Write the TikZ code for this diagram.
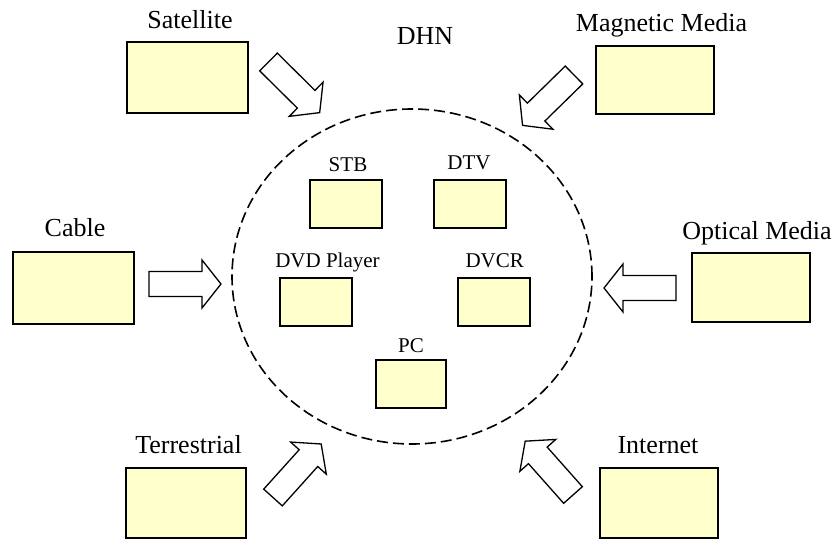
\documentclass[tikz,border=0pt]{standalone}
\usepackage{fontspec}
\setmainfont{Liberation Serif}
\usetikzlibrary{shapes.geometric}
\definecolor{boxfill}{HTML}{FFFFCC}
\newcommand\blkarrow[3]{%
  \draw[blockarrow, shift={(#1,#2)}, rotate=#3]
    (0,-12.5) -- (53,-12.5) -- (53,-24) -- (72,0) -- (53,24) -- (53,12.5) -- (0,12.5) -- cycle;}
\begin{document}
\begin{tikzpicture}[x=1pt,y=-1pt,
  box/.style={draw=black, line width=1.5pt, fill=boxfill, inner sep=0pt},
  biglabel/.style={anchor=base, inner sep=0pt, font=\fontsize{26}{30}\selectfont},
  smalllabel/.style={anchor=base, inner sep=0pt, font=\fontsize{21}{25}\selectfont},
  blockarrow/.style={draw=black, line width=1.3pt, fill=white, line join=miter},
  dhnstyle/.style={ellipse, draw=black, line width=1.6pt, dash pattern=on 11pt off 5pt, inner sep=0pt}]
\useasboundingbox (0,0) rectangle (833,540);

% DHN circle
\node[dhnstyle, minimum width=360pt, minimum height=335pt] (dhn) at (412,276.5) {};
\node[biglabel] (dhnlabel) at (425,45) {DHN};

% outer source boxes
\node[box, minimum width=121pt, minimum height=71pt] (sat) at (187.5,77.5) {};
\node[biglabel] (satl) at (190,29) {Satellite};
\node[box, minimum width=118pt, minimum height=68pt] (mag) at (655,80) {};
\node[biglabel] (magl) at (661.5,32) {Magnetic Media};
\node[box, minimum width=121pt, minimum height=72pt] (cab) at (73.5,288) {};
\node[biglabel] (cabl) at (75,237) {Cable};
\node[box, minimum width=118pt, minimum height=69pt] (opt) at (751,287.5) {};
\node[biglabel] (optl) at (757,240) {Optical Media};
\node[box, minimum width=120pt, minimum height=70pt] (ter) at (186,503) {};
\node[biglabel] (terl) at (188.5,453) {Terrestrial};
\node[box, minimum width=118pt, minimum height=70pt] (int) at (659,503) {};
\node[biglabel] (intl) at (658,453) {Internet};

% inner device boxes
\node[box, minimum width=72pt, minimum height=48pt] (stb) at (346,204) {};
\node[smalllabel] (stbl) at (348,172) {STB};
\node[box, minimum width=72pt, minimum height=48pt] (dtv) at (470,204) {};
\node[smalllabel] (dtvl) at (469,170) {DTV};
\node[box, minimum width=72pt, minimum height=48pt] (dvd) at (316,302) {};
\node[smalllabel] (dvdl) at (327.5,268) {DVD Player};
\node[box, minimum width=72pt, minimum height=48pt] (dvcr) at (494,302) {};
\node[smalllabel] (dvcrl) at (494.7,268) {DVCR};
\node[box, minimum width=70pt, minimum height=48pt] (pc) at (411,384) {};
\node[smalllabel] (pcl) at (411,352) {PC};

% block arrows
\blkarrow{268.5}{62}{-44.7}
\blkarrow{574}{75}{-135.6}
\blkarrow{149}{284}{0}
\blkarrow{676}{288}{180}
\blkarrow{273}{497.5}{48}
\blkarrow{573}{495}{131.6}
\end{tikzpicture}
\end{document}
